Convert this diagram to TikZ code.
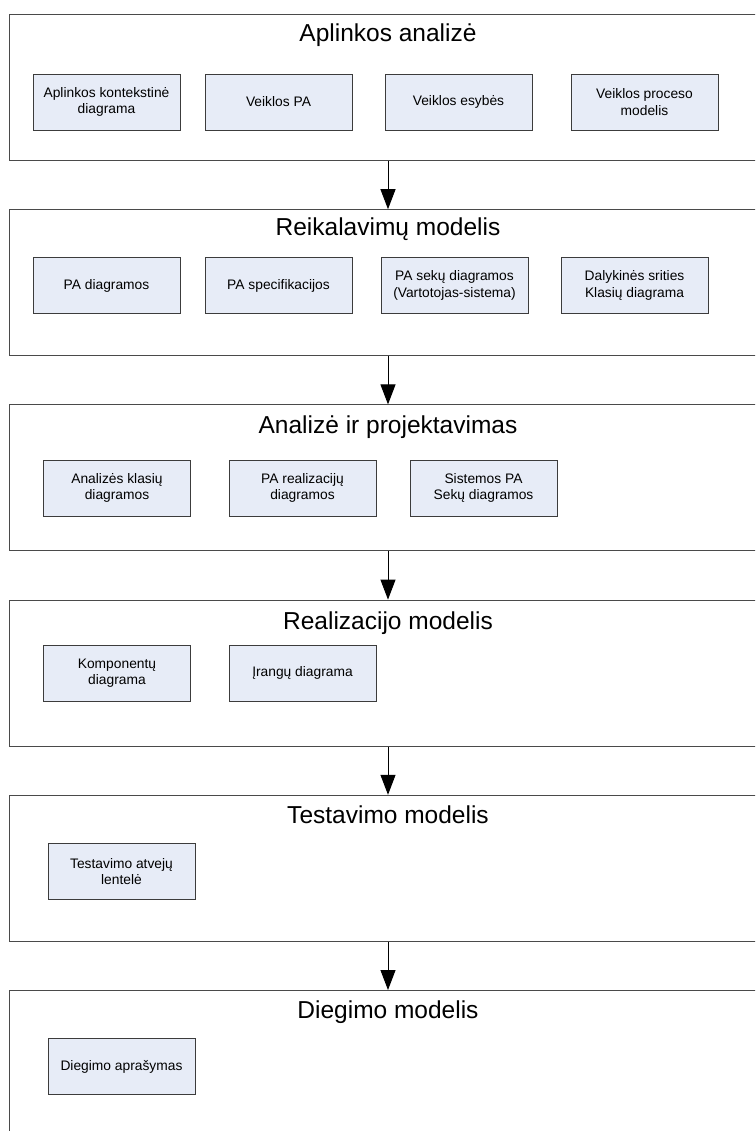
\documentclass[tikz,border=0pt]{standalone}
\usepackage{fontspec}
\setmainfont{Liberation Sans}
\usepackage{tikz}
\usetikzlibrary{arrows.meta, positioning}
\definecolor{frame}{HTML}{4A4A4A}
\definecolor{boxfill}{HTML}{E7ECF7}
\definecolor{boxline}{HTML}{3C3C3C}

\begin{document}
\begin{tikzpicture}[x=1pt, y=-1pt,
          stage/.style={draw=frame, line width=1pt, anchor=north, minimum width=758pt,
                        minimum height=146pt, inner sep=0pt},
          ttl/.style={anchor=base, font=\fontsize{24.5}{28}\selectfont},
          art/.style={draw=boxline, fill=boxfill, line width=0.9pt, minimum width=147pt,
                      minimum height=56pt, align=center, inner sep=2pt,
                      font=\fontsize{13.8}{16.6}\selectfont},
          ar/.style={-{Triangle[length=20pt, width=15pt]}, line width=1pt}
        ]
        \useasboundingbox (0,0) rectangle (755,1131);
        \clip (0,0) rectangle (755,1131);

        % stages
        \node[stage] (s1) at (388,14) {};
        \node[stage] (s2) at (388,209.2) {};
        \node[stage] (s3) at (388,404.4) {};
        \node[stage] (s4) at (388,599.6) {};
        \node[stage] (s5) at (388,794.8) {};
        \node[stage] (s6) at (388,990) {};

        \node[ttl] (t1) at (388,42) {Aplinkos analizė};
        \node[ttl] (t2) at (388,236) {Reikalavimų modelis};
        \node[ttl] (t3) at (388,433) {Analizė ir projektavimas};
        \node[ttl] (t4) at (388,629) {Realizacijo modelis};
        \node[ttl] (t5) at (388,823) {Testavimo modelis};
        \node[ttl] (t6) at (388,1018) {Diegimo modelis};

        \node[art] (a1) at (106.5,102) {Aplinkos kontekstinė\\diagrama};
        \node[art] (a2) at (278.5,102) {Veiklos PA};
        \node[art] (a3) at (458.5,102) {Veiklos esybės};
        \node[art] (a4) at (644.5,102) {Veiklos proceso\\modelis};

        \node[art] (r1) at (106.5,285.5) {PA diagramos};
        \node[art] (r2) at (278.5,285.5) {PA specifikacijos};
        \node[art] (r3) at (454.5,285.5) {PA sekų diagramos\\(Vartotojas-sistema)};
        \node[art] (r4) at (634.5,285.5) {Dalykinės srities\\Klasių diagrama};

        \node[art] (p1) at (117,488) {Analizės klasių\\diagramos};
        \node[art] (p2) at (302.5,488) {PA realizacijų\\diagramos};
        \node[art] (p3) at (483.5,488) {Sistemos PA\\Sekų diagramos};

        \node[art] (m1) at (117,673) {Komponentų\\diagrama};
        \node[art] (m2) at (302.5,673) {Įrangų diagrama};

        \node[art] (e1) at (121.5,871.5) {Testavimo atvejų\\lentelė};

        \node[art] (d1) at (121.5,1066.5) {Diegimo aprašymas};

        \draw[ar] (s1.south) -- (s2.north);
        \draw[ar] (s2.south) -- (s3.north);
        \draw[ar] (s3.south) -- (s4.north);
        \draw[ar] (s4.south) -- (s5.north);
        \draw[ar] (s5.south) -- (s6.north);
      \end{tikzpicture}
\end{document}
